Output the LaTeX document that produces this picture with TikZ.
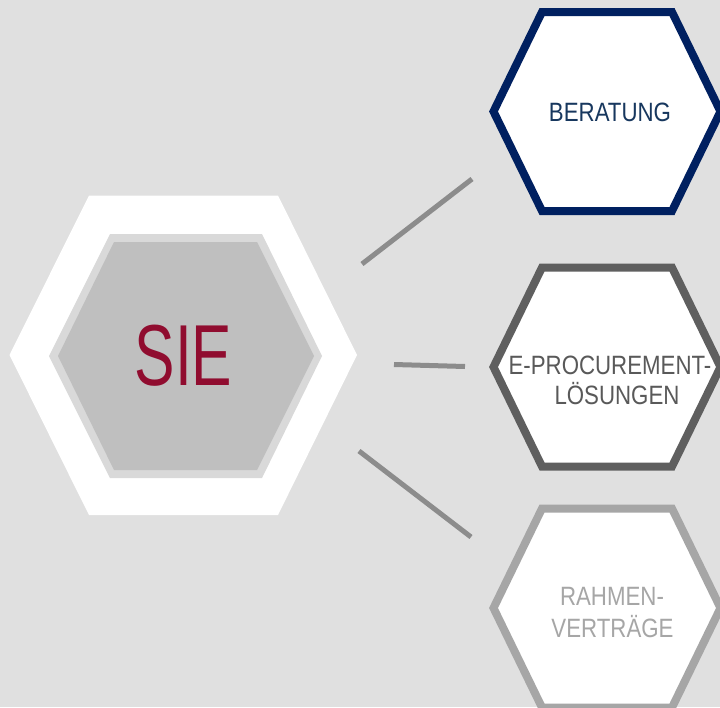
\documentclass[tikz,border=0pt]{standalone}
\usepackage{fontspec}
\setmainfont{Liberation Sans}
\newfontfamily\lblfont[FakeStretch=0.84]{Liberation Sans}
\newfontfamily\siefont[FakeStretch=0.70]{Liberation Sans}
\definecolor{bg}{HTML}{E0E0E0}
\definecolor{innerborder}{HTML}{D9D9D9}
\definecolor{innerfill}{HTML}{BFBFBF}
\definecolor{siered}{HTML}{900C2F}
\definecolor{navy}{HTML}{002060}
\definecolor{navytext}{HTML}{17375E}
\definecolor{darkgray}{HTML}{5F5F5F}
\definecolor{darkgraytext}{HTML}{595959}
\definecolor{lightgray}{HTML}{A6A6A6}
\definecolor{linkgray}{HTML}{8C8C8C}
\tikzset{
  hexborder/.style={line width=8pt, line join=miter, fill=white},
  lbl/.style={font=\lblfont\fontsize{26.5}{31}\selectfont, anchor=base, inner sep=0pt},
  link/.style={line width=5pt, draw=linkgray},
}
\newcommand{\myhex}[3]{%
  \draw[hexborder, draw=#3] (#1-65,#2-99.5) -- (#1+65,#2-99.5) -- (#1+113.5,#2)
    -- (#1+65,#2+99.5) -- (#1-65,#2+99.5) -- (#1-113.5,#2) -- cycle;}
\begin{document}
\begin{tikzpicture}[x=1pt,y=-1pt]
\fill[bg] (0,0) rectangle (720,707);
\useasboundingbox (0,0) rectangle (720,707);
% central hexagon
\fill[white] (89,195.5) -- (278,195.5) -- (357,355) -- (278,515) -- (89,515) -- (9.5,355) -- cycle;
\fill[innerborder] (110,234) -- (262,234) -- (322,356) -- (262,478) -- (110,478) -- (49,356) -- cycle;
\fill[innerfill] (114,242) -- (257,242) -- (314,356) -- (257,470) -- (114,470) -- (58,356) -- cycle;
\node[anchor=base, inner sep=0pt, text=siered, font=\siefont\fontsize{86.6}{90}\selectfont] (sie) at (183.5,385) {SIE};
% right hexagons
\myhex{607}{111.5}{navy}
\myhex{607}{367}{darkgray}
\myhex{607}{608}{lightgray}
\node[lbl, text=navytext] (beratung) at (610,121) {BERATUNG};
\node[lbl, text=darkgraytext] (eproc1) at (610,374) {E-PROCUREMENT-};
\node[lbl, text=darkgraytext] (eproc2) at (617,404) {LÖSUNGEN};
\node[lbl, text=lightgray] (rahmen1) at (612,605) {RAHMEN-};
\node[lbl, text=lightgray] (rahmen2) at (612.5,637) {VERTRÄGE};
% connectors
\coordinate (l1a) at (362,264); \coordinate (l1b) at (472,179);
\coordinate (l2a) at (394,364.5); \coordinate (l2b) at (465,366.5);
\coordinate (l3a) at (359,451); \coordinate (l3b) at (471,537);
\draw[link] (l1a) -- (l1b);
\draw[link] (l2a) -- (l2b);
\draw[link] (l3a) -- (l3b);
\end{tikzpicture}
\end{document}
